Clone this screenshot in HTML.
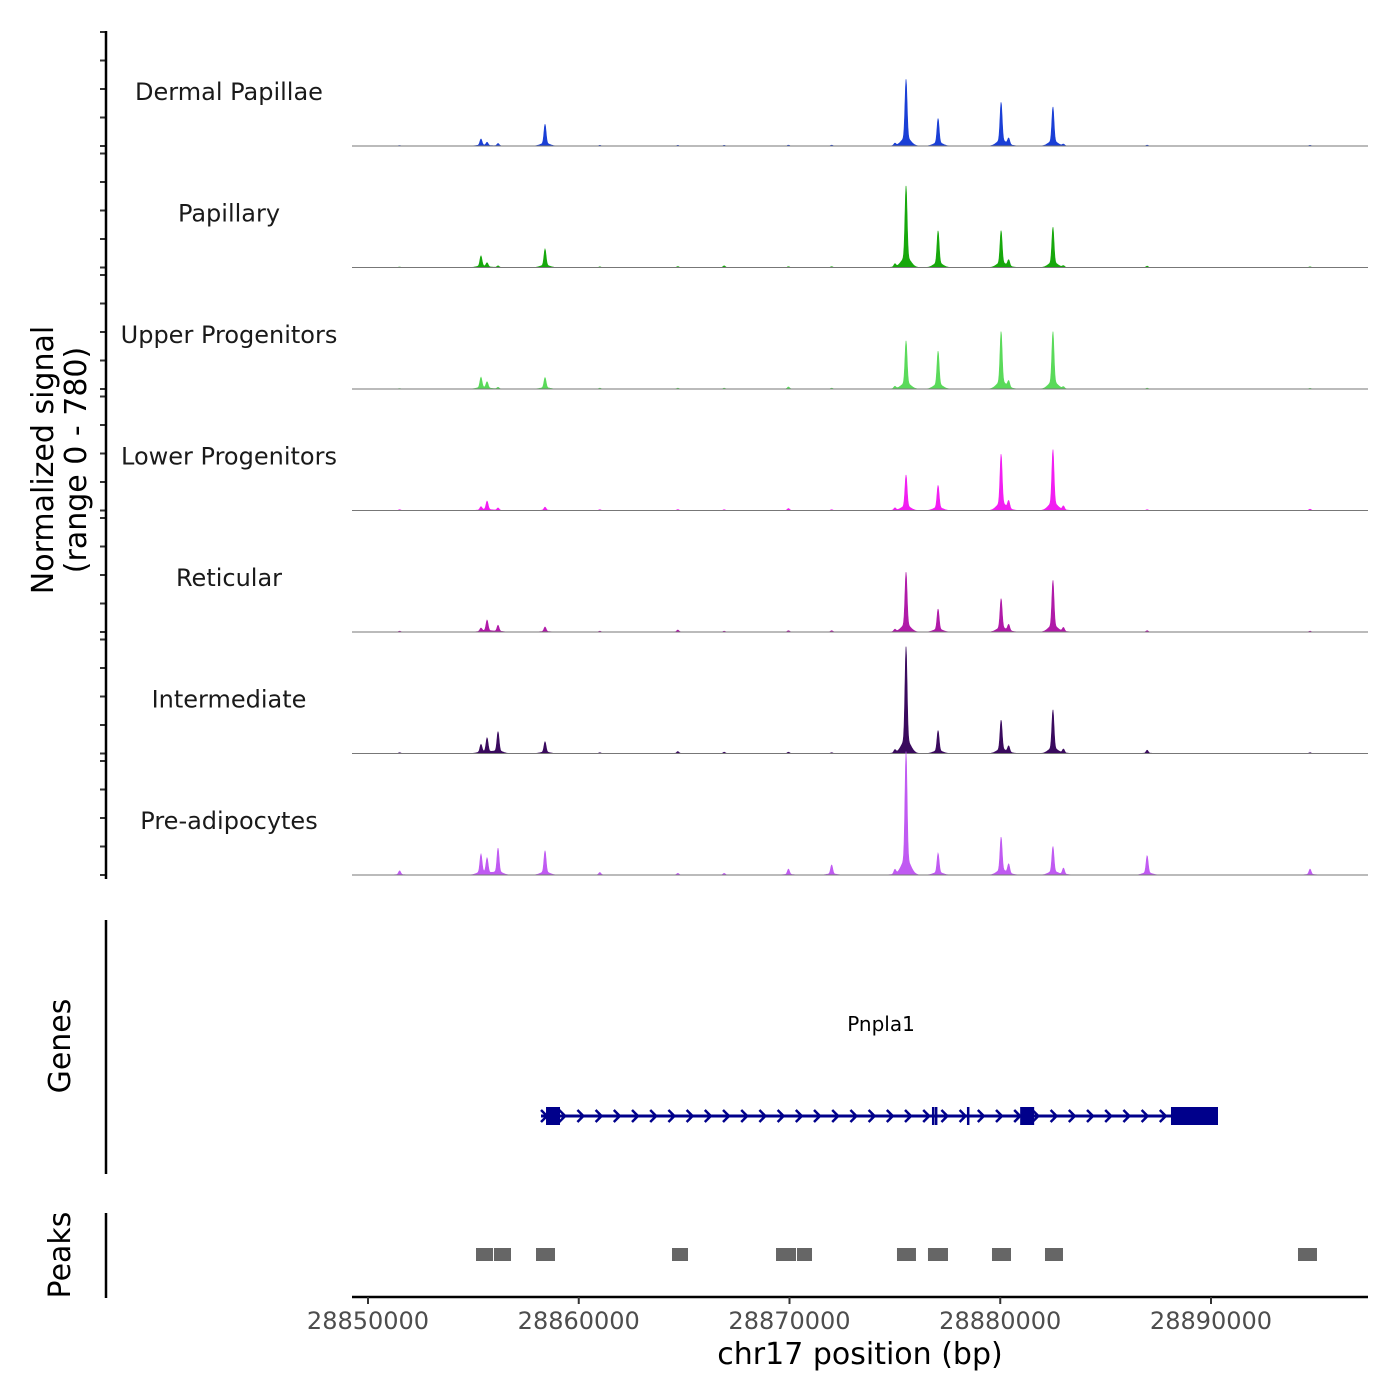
<!DOCTYPE html>
<html><head><meta charset="utf-8"><style>
html,body{margin:0;padding:0;background:#fff;}
svg{display:block;font-family:"DejaVu Sans","Liberation Sans",sans-serif;}
</style></head><body>
<svg id="chart" width="1400" height="1400" viewBox="0 0 1400 1400">
<g id="tracks"></g>
<g id="genes"></g>
<g id="peaks"></g>
<g id="axes"></g>
</svg>
<script>
const trackNames=["Dermal Papillae","Papillary","Upper Progenitors","Lower Progenitors","Reticular","Intermediate","Pre-adipocytes"];
const trackColors=["#1a3fd6","#17a80c","#5ada5a","#f21ef2","#b01aa8","#3a0a5e","#c05af2"];
const peakPos=[28855360,28855650,28856170,28858400,28875530,28877050,28880040,28882500,28886970,28872000,28869950,28864700,28861000,28866900,28875000,28883000,28894700,28851500,28880400];
const sigDP=[41,20,15,130,397,164,260,233,5,5,5,4,4,4,15,10,4,3,40];
const sigPap=[68,25,10,110,486,219,219,240,8,5,5,6,4,10,20,10,4,3,40];
const sigUp=[68,40,10,68,287,226,342,342,5,5,12,5,5,5,15,12,4,3,40];
const sigLow=[20,55,15,20,212,150,335,363,5,5,12,6,5,5,15,25,8,5,50];
const sigRet=[20,70,40,30,356,137,198,308,8,8,8,12,5,5,15,25,5,5,40];
const sigInt=[50,90,130,70,636,137,198,260,20,5,8,12,5,8,20,25,5,5,40];
const sigPre=[120,95,160,145,735,130,225,170,115,60,35,10,15,10,30,40,35,25,60];
const trackSignals=[sigDP,sigPap,sigUp,sigLow,sigRet,sigInt,sigPre];
const xTicks=[28850000,28860000,28870000,28880000,28890000];
const peakStarts=[28855125,28855979,28857972,28864425,28869360,28870356,28875100,28876571,28879608,28882123,28894128];
const peakEnds=[28855932,28856785,28858873,28865184,28870309,28871068,28876001,28877520,28880510,28882977,28895029];
const exonStarts=[28858447,28876760,28876900,28878420,28880945,28888101];
const exonEnds=[28859111,28876870,28876990,28878520,28881609,28890332];
const geneStart=28858209, geneEnd=28890332;

const NS="http://www.w3.org/2000/svg";
function el(tag,attrs,parent){const e=document.createElementNS(NS,tag);for(const k in attrs)e.setAttribute(k,attrs[k]);parent.appendChild(e);return e;}
const xS=bp=>368+(bp-28850000)*(843/40000);
const PH=114, YMAX=780;
const tracksG=document.getElementById('tracks');
trackNames.forEach((name,i)=>{
  const top=32+121.5*i, base=top+PH;
  const yS=v=>base-v/YMAX*PH;
  const sig=trackSignals[i];
  let d="M352,"+base;
  for(let x=352;x<=1368;x+=0.5){
    let v=0;
    peakPos.forEach((p,j)=>{const dx=(x-xS(p));v+=sig[j]*Math.exp(-(dx*dx)/2.2)+sig[j]*0.15*Math.exp(-(dx*dx)/40);});
    d+=" L"+x+","+yS(v).toFixed(2);
  }
  d+=" L1368,"+base+" Z";
  const area=el('path',{d:d,fill:trackColors[i],stroke:trackColors[i],'stroke-width':0.6},tracksG);
  
  
  const bl=el('line',{x1:352,x2:1368,y1:base,y2:base,stroke:'#777','stroke-width':1},tracksG);
  
  
  const t=el('text',{x:229,y:top+68,'text-anchor':'middle','font-size':24,fill:'#1a1a1a'},tracksG);
  t.textContent=name;
  
  
  for(let k=0;k<5;k++){
    const tk=el('line',{x1:100,x2:106,y1:top+k*28.5,y2:top+k*28.5,stroke:'#333','stroke-width':2},tracksG);
    
    
  }
});
const ax=document.getElementById('axes');
el('line',{x1:106,x2:106,y1:31,y2:879,stroke:'#000','stroke-width':2.5},ax);
el('line',{x1:106,x2:106,y1:920,y2:1174,stroke:'#000','stroke-width':2.5},ax);
el('line',{x1:106,x2:106,y1:1213,y2:1298,stroke:'#000','stroke-width':2.5},ax);
el('line',{x1:352,x2:1368,y1:1297,y2:1297,stroke:'#000','stroke-width':2.5},ax);
xTicks.forEach(v=>{
  const l=el('line',{x1:xS(v),x2:xS(v),y1:1297,y2:1304,stroke:'#333','stroke-width':2},ax);
  
  
  const t=el('text',{x:xS(v),y:1329,'text-anchor':'middle','font-size':24,fill:'#4d4d4d'},ax);
  t.textContent=v;
  
  
});
const xt=el('text',{x:860,y:1364,'text-anchor':'middle','font-size':30,fill:'#000'},ax);
xt.textContent="chr17 position (bp)";


const yt=el('text',{transform:'translate(53,460) rotate(-90)','text-anchor':'middle','font-size':30,fill:'#000'},ax);
yt.innerHTML='<tspan x="0" dy="0">Normalized signal</tspan><tspan x="0" dy="33">(range 0 - 780)</tspan>';


const gt=el('text',{transform:'translate(70,1046) rotate(-90)','text-anchor':'middle','font-size':30,fill:'#000'},ax);
gt.textContent="Genes";


const pt=el('text',{transform:'translate(70,1255) rotate(-90)','text-anchor':'middle','font-size':30,fill:'#000'},ax);
pt.textContent="Peaks";



const gG=document.getElementById('genes');
const gl=el('line',{x1:xS(geneStart),x2:xS(geneEnd),y1:1116,y2:1116,stroke:'#00008b','stroke-width':3},gG);


for(let x=xS(geneStart)+3;x<xS(geneEnd)-45;x+=18.2){
  el('path',{d:`M${x-3},${1110} L${x+3},${1116} L${x-3},${1122}`,fill:'none',stroke:'#00008b','stroke-width':2.5},gG);
}
exonStarts.forEach((s,i)=>{
  const r=el('rect',{x:xS(s),y:1107,width:Math.max(2.5,xS(exonEnds[i])-xS(s)),height:18,fill:'#00008b'},gG);
  
  
});
const gn=el('text',{x:881,y:1031,'text-anchor':'middle','font-size':20,fill:'#000'},gG);
gn.textContent="Pnpla1";



const pG=document.getElementById('peaks');
peakStarts.forEach((s,i)=>{
  const r=el('rect',{x:xS(s),y:1248,width:xS(peakEnds[i])-xS(s),height:13,fill:'#666'},pG);
  
  
});
</script>
</body></html>
